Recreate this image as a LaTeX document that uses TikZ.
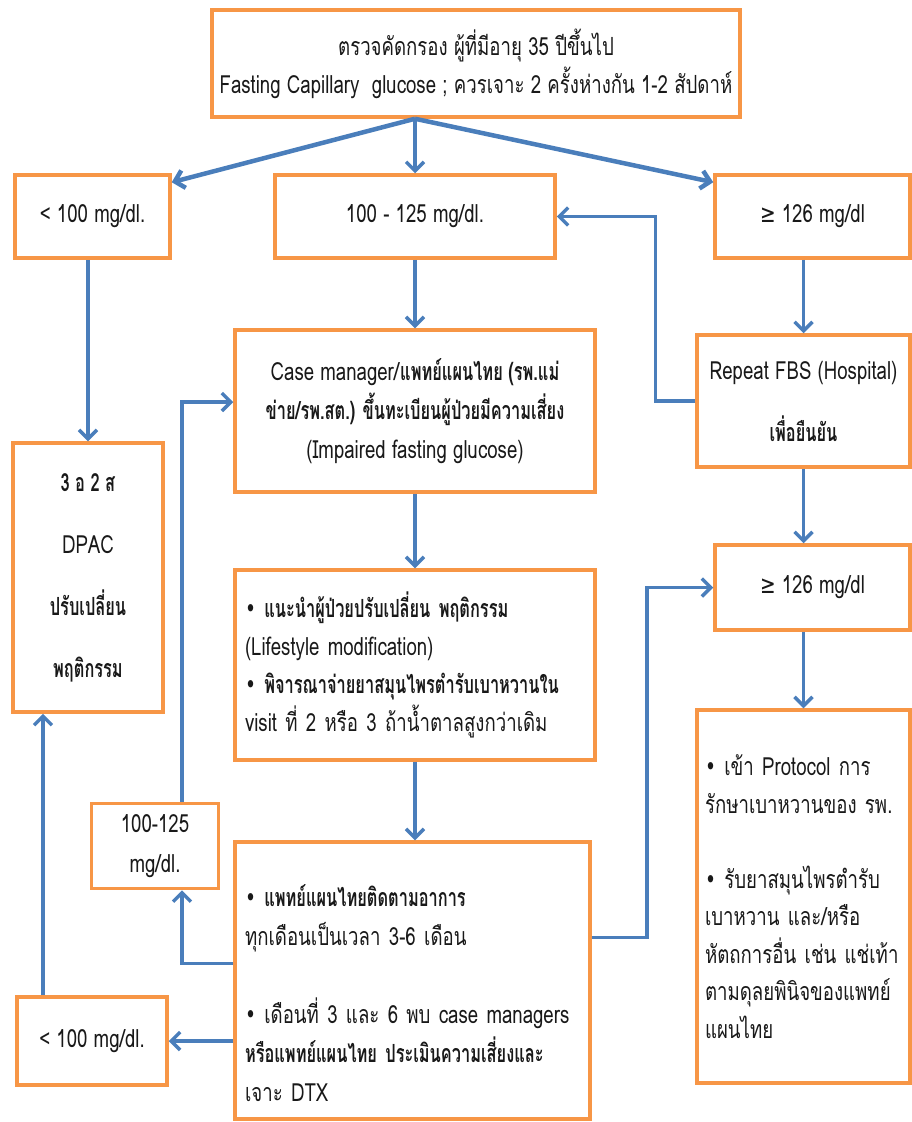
\documentclass[tikz,border=0pt]{standalone}
\usepackage{fontspec}
\setmainfont[Script=Thai,FakeStretch=0.745,BoldFeatures={FakeStretch=0.655}]{Loma}
\newfontfamily\symf[FakeStretch=0.745]{DejaVu Sans}
\usetikzlibrary{arrows.meta,calc}
\definecolor{boxorange}{HTML}{F79646}
\definecolor{arrblue}{HTML}{4A7EBB}
\newcommand{\bul}{{\symf •}\ }
\newcommand{\gesym}{{\symf ≥}}
\tikzset{
  box/.style={draw=boxorange, line width=3.5pt, fill=white, inner sep=0pt, align=center,
    text=black!90, font=\fontsize{25}{29}\selectfont},
  lbox/.style={box, align=left, inner xsep=10pt},
  arr/.style={draw=arrblue, line width=3.5pt, -{Straight Barb[length=9pt,width=18pt]}},
}
\begin{document}
\begin{tikzpicture}[x=1pt,y=-1pt]
\useasboundingbox (0,0) rectangle (911,1122);
% boxes
\node[box, minimum width=528, minimum height=107, font=\fontsize{25}{38}\selectfont] (top) at (476,63.5)
  {ตรวจคัดกรอง ผู้ที่มีอายุ 35 ปีขึ้นไป\\Fasting Capillary~~glucose ; ควรเจาะ 2 ครั้งห่างกัน 1-2 สัปดาห์};
\node[box, minimum width=155, minimum height=83] (lt) at (92.5,216.5) {< 100 mg/dl.};
\node[box, minimum width=280, minimum height=83] (mid) at (415,216.5) {100 - 125 mg/dl.};
\node[box, minimum width=195, minimum height=83] (rt) at (812.5,216.5) {\gesym\ 126 mg/dl};
\node[box, minimum width=360, minimum height=162, font=\fontsize{25}{39}\selectfont] (case) at (415,411)
  {Case manager/\textbf{แพทย์แผนไทย (รพ.แม่}\\\textbf{ข่าย/รพ.สต.) ขึ้นทะเบียนผู้ป่วยมีความเสี่ยง}\\(Impaired fasting glucose)};
\node[box, minimum width=213, minimum height=132, font=\fontsize{25}{62}\selectfont] (repeat) at (803.5,401)
  {Repeat FBS (Hospital)\\\textbf{เพื่อยืนยัน}};
\node[box, minimum width=150, minimum height=269, font=\fontsize{25}{62}\selectfont] (dpac) at (88,577.5)
  {\textbf{3 อ 2 ส}\\DPAC\\\textbf{ปรับเปลี่ยน}\\\textbf{พฤติกรรม}};
\node[box, minimum width=195, minimum height=85] (rt2) at (812.5,587.5) {\gesym\ 126 mg/dl};
\node[lbox, minimum width=360, minimum height=190, text width=340, font=\fontsize{25}{38}\selectfont] (life) at (415,665)
  {\bul\textbf{แนะนำผู้ป่วยปรับเปลี่ยน พฤติกรรม}\\(Lifestyle modification)\\\bul\textbf{พิจารณาจ่ายยาสมุนไพรตำรับเบาหวานใน}\\visit ที่ 2 หรือ 3 ถ้าน้ำตาลสูงกว่าเดิม};
\node[lbox, minimum width=213, minimum height=373, inner xsep=8pt, text width=197, font=\fontsize{25}{37.5}\selectfont] (prot) at (803.5,896.5)
  {\bul เข้า Protocol การ\\รักษาเบาหวานของ รพ.\\~\\\bul รับยาสมุนไพรตำรับ\\เบาหวาน และ/หรือ\\หัตถการอื่น เช่น แช่เท้า\\ตามดุลยพินิจของแพทย์\\แผนไทย};
\node[box, minimum width=127, minimum height=85, font=\fontsize{25}{40}\selectfont] (small) at (155,846)
  {100-125\\mg/dl.};
\node[lbox, minimum width=355, minimum height=277, text width=335, font=\fontsize{25}{39}\selectfont] (follow) at (412.5,980.5)
  {\rule{0pt}{48pt}\bul\textbf{แพทย์แผนไทยติดตามอาการ}\\ทุกเดือนเป็นเวลา 3-6 เดือน\\~\\\bul เดือนที่ 3 และ 6 พบ case managers\\\textbf{หรือแพทย์แผนไทย ประเมินความเสี่ยงและ}\\เจาะ DTX};
\node[box, minimum width=150, minimum height=88] (bot) at (92,1041) {< 100 mg/dl.};
% connectors
\draw[arr, line width=4.5pt] (top.south -| mid.north) -- ([yshift=-9pt]lt.north east);
\draw[arr] (top.south -| mid.north) -- (mid.north);
\draw[arr, line width=4.5pt] (top.south -| mid.north) -- ([yshift=-9pt]rt.north west);
\draw[arr] (lt.south -| dpac.north) -- (dpac.north);
\draw[arr] (mid.south) -- (case.north);
\draw[arr] (rt.south -| repeat.north) -- (repeat.north);
\draw[arr] (repeat.west) -- ++(-40,0) |- (mid.east);
\draw[arr] (repeat.south) -- (repeat.south |- rt2.north);
\draw[arr] (rt2.south -| prot.north) -- (prot.north);
\draw[arr] (case.south) -- (life.north);
\draw[arr] (life.south) -- (life.south |- follow.north);
\draw[arr] ([yshift=43pt]follow.east) -- ++(55,0) |- (rt2.west);
\draw[arr] ([yshift=17pt]follow.west) -| ([xshift=27pt]small.south);
\draw[arr] ([xshift=27pt]small.north) |- ([yshift=9pt]case.west);
\draw[arr] (bot.east -| follow.west) -- (bot.east);
\draw[arr] ([xshift=-49pt]bot.north) -- ([xshift=-49pt]bot.north |- dpac.south);
\end{tikzpicture}
\end{document}
